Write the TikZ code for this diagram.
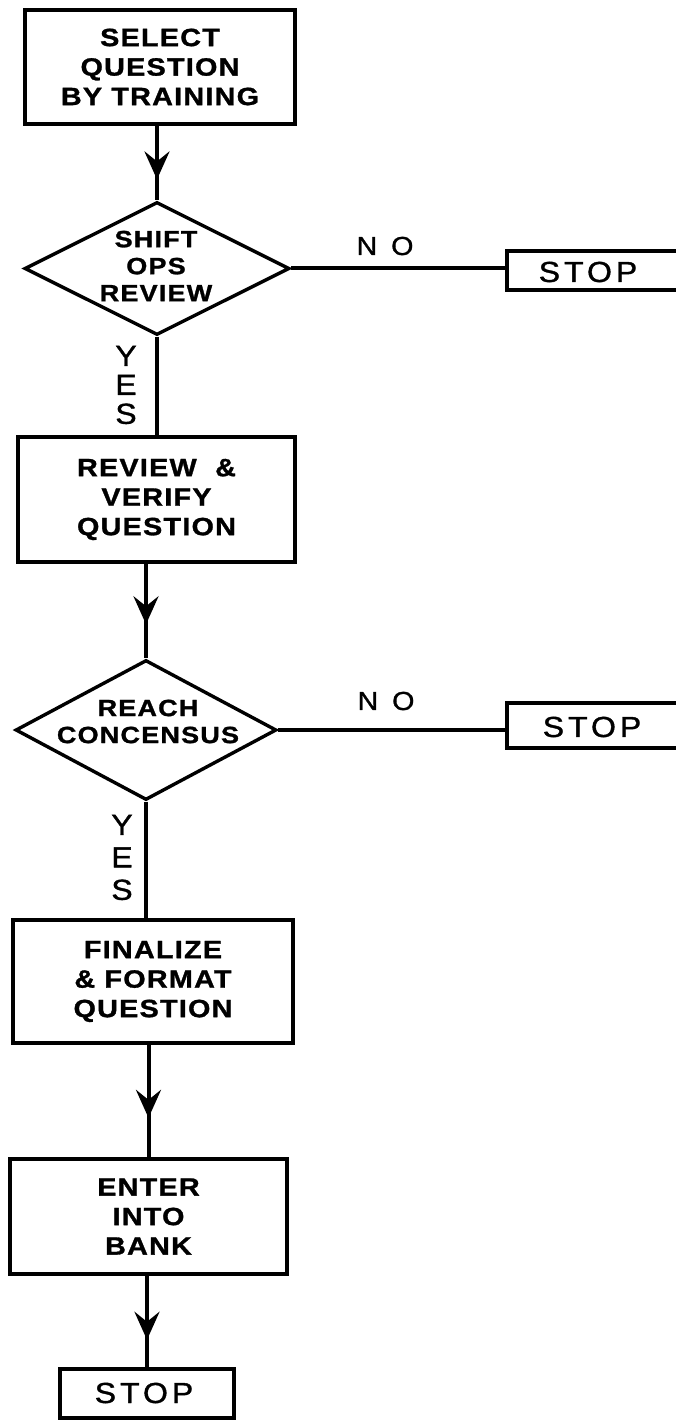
\documentclass[tikz,border=0pt]{standalone}
\usepackage{fontspec}
\setmainfont{Liberation Sans}
\newfontfamily\boxfont{Liberation Sans}[FakeStretch=1.15,LetterSpace=5,FakeBold=1.2]
\newfontfamily\labelfont{Liberation Sans}[FakeStretch=1.1,LetterSpace=14,FakeBold=1.2]
\usetikzlibrary{shapes.geometric,arrows.meta,decorations.markings}

\tikzset{
  flowline/.style={line width=4pt},
  procbox/.style={draw, line width=3.6pt, rectangle, inner sep=0pt,
    font=\boxfont\bfseries\fontsize{25}{29.5}\selectfont, align=center},
  decision/.style={draw, line width=3.4pt, diamond, inner sep=0pt},
  dectext/.style={inner sep=0pt, align=center,
    font=\boxfont\bfseries\fontsize{23.5}{27}\selectfont},
  stopbox/.style={draw, line width=3.6pt, rectangle, inner sep=0pt},
  stoptext/.style={inner sep=0pt, font=\labelfont\fontsize{29}{32}\selectfont},
  nolabel/.style={inner sep=0pt, font=\labelfont\fontsize{26}{30}\selectfont},
  yeslabel/.style={inner sep=0pt, align=center, font=\labelfont\fontsize{29}{#1}\selectfont},
  midarrow/.style={decoration={markings,
      mark=at position #1 with {\arrow{Stealth[length=28pt,width=25pt,inset=10pt]}}},
    postaction={decorate}}
}

\begin{document}
\begin{tikzpicture}[x=1pt,y=-1pt]
\useasboundingbox (0,0) rectangle (676,1420);
\clip (0,0) rectangle (676,1420);

% process boxes
\node[procbox, minimum width=270pt, minimum height=114pt] (b1) at (160,67)
  {SELECT\\QUESTION\\BY TRAINING};
\node[procbox, minimum width=277pt, minimum height=125pt] (b2) at (156.5,499.5)
  {REVIEW\ \ \&\\VERIFY\\QUESTION};
\node[procbox, minimum width=280pt, minimum height=123pt] (b3) at (153,981.5)
  {FINALIZE\\\& FORMAT\\QUESTION};
\node[procbox, minimum width=277pt, minimum height=115pt] (b4) at (148.5,1216.5)
  {ENTER\\INTO\\BANK};

% decisions
\node[decision, minimum width=265pt, minimum height=133pt] (d1) at (157,268.5) {};
\node[dectext] (d1t) at (156,266) {SHIFT\\OPS\\REVIEW};
\node[decision, minimum width=261pt, minimum height=140pt] (d2) at (146,730) {};
\node[dectext] (d2t) at (148,721.5) {REACH\\CONCENSUS};

% terminal boxes
\node[stopbox, minimum width=200pt, minimum height=39pt, anchor=west] (s1) at (505,270.5) {};
\node[stoptext] (s1t) at (588,272) {STOP};
\node[stopbox, minimum width=200pt, minimum height=45pt, anchor=west] (s2) at (505,725.5) {};
\node[stoptext] (s2t) at (592,727) {STOP};
\node[stopbox, minimum width=174pt, minimum height=49pt] (s3) at (147,1393.5) {};
\node[stoptext] (s3t) at (144,1393) {STOP};

% branch labels
\node[nolabel] (n1) at (385,246) {N\kern14pt O};
\node[nolabel] (n2) at (386,701) {N\kern14pt O};
\node[yeslabel=29] (y1) at (126,385) {Y\\E\\S};
\node[yeslabel=32.5] (y2) at (122,857.5) {Y\\E\\S};

% connectors
\draw[flowline, midarrow=0.72] (b1.south -| d1.north) -- (d1.north);
\draw[flowline] (d1.east) -- (d1.east -| s1.west);
\draw[flowline] (d1.south) -- (d1.south |- b2.north);
\draw[flowline, midarrow=0.64] (b2.south -| d2.north) -- (d2.north);
\draw[flowline] (d2.east) -- (d2.east -| s2.west);
\draw[flowline] (d2.south) -- (d2.south |- b3.north);
\draw[flowline, midarrow=0.65] (b3.south -| b4.north) -- (b4.north);
\draw[flowline, midarrow=0.70] (b4.south -| s3.north) -- (s3.north);
\end{tikzpicture}
\end{document}
